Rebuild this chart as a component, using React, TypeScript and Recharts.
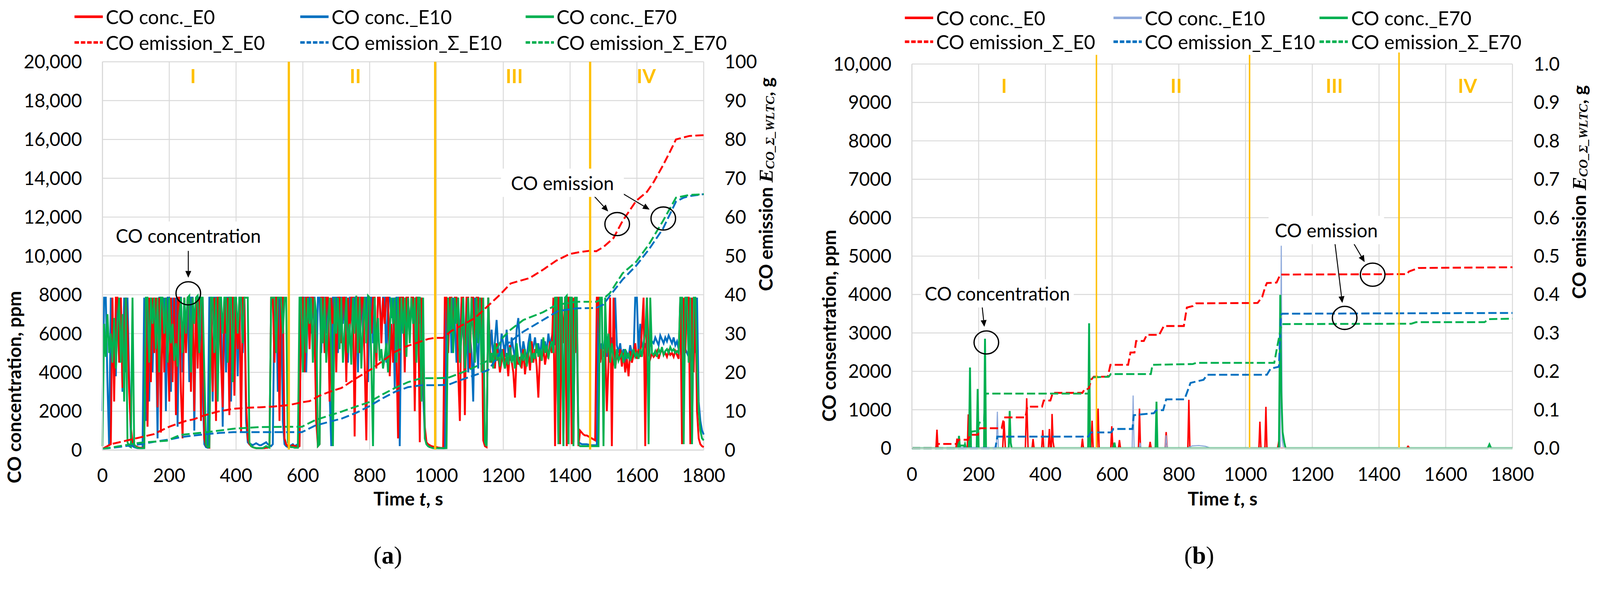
import React from 'react';
import { LineChart, Line, XAxis, YAxis, CartesianGrid, ReferenceLine, ReferenceDot } from 'recharts';

// ---------- shared categories / ticks ----------
const TIME_TICKS = [0, 200, 400, 600, 800, 1000, 1200, 1400, 1600, 1800];
const A_LEFT_TICKS = [0, 2000, 4000, 6000, 8000, 10000, 12000, 14000, 16000, 18000, 20000];
const A_RIGHT_TICKS = [0, 10, 20, 30, 40, 50, 60, 70, 80, 90, 100];
const B_LEFT_TICKS = [0, 1000, 2000, 3000, 4000, 5000, 6000, 7000, 8000, 9000, 10000];
const B_RIGHT_TICKS = [0, 0.1, 0.2, 0.3, 0.4, 0.5, 0.6, 0.7, 0.8, 0.9, 1.0];

const LEGEND_NAMES = ['CO conc._E0', 'CO conc._E10', 'CO conc._E70', 'CO emission_Σ_E0', 'CO emission_Σ_E10', 'CO emission_Σ_E70'];
const PHASE_LABELS = ['I', 'II', 'III', 'IV'];
const A_PHASE_T = [271, 757, 1233, 1628];
const B_PHASE_T = [276, 792, 1266, 1665];
const A_BOUNDS = [558, 996, 1460];
const B_BOUNDS = [553, 1012, 1460];
const B_BOUND_TOP = [10240, 10240, 10300];

// ---------- chart (a): CO concentration, ppm, sampled every 5 s ----------
const A_STEP = 5;
const aConcE0 = [
  100, 100, 150, 200, 250, 300, 7850, 2500, 7850, 7850,
  4500, 7850, 3200, 5800, 7850, 6200, 3000, 1200, 400, 250,
  200, 150, 130, 120, 120, 120, 7850, 1200, 7850, 3500,
  7850, 5000, 7850, 2200, 7850, 900, 7850, 4000, 7850, 6000,
  2500, 7850, 3500, 7850, 1800, 7850, 7850, 3000, 600, 7850,
  5000, 7850, 7850, 3000, 7850, 2000, 7850, 4200, 7850, 1500,
  7850, 600, 250, 150, 120, 7850, 3000, 7850, 1500, 7850,
  7850, 4500, 2200, 7850, 6000, 7850, 1800, 7850, 7850, 2800,
  7850, 5200, 7850, 900, 7850, 7850, 2500, 600, 300, 200,
  150, 120, 100, 100, 100, 100, 100, 100, 120, 120,
  150, 7850, 7850, 4500, 7850, 7850, 1500, 7850, 7850, 600,
  300, 200, 150, 200, 250, 200, 200, 150, 200, 7850,
  7850, 4000, 7850, 7850, 5200, 7850, 7850, 6000, 1500, 200,
  300, 7850, 7850, 5000, 7850, 7850, 2500, 7850, 6500, 7850,
  4000, 7850, 7850, 5500, 7850, 7850, 3500, 7850, 6000, 7850,
  7850, 700, 7850, 7850, 5000, 7850, 7850, 4500, 500, 7850,
  7850, 6000, 7850, 7850, 4200, 7850, 7850, 5500, 7850, 6500,
  7850, 7850, 3800, 6500, 4500, 7850, 5200, 600, 7850, 7850,
  7850, 4000, 7850, 7850, 5800, 7850, 7850, 2000, 7850, 7850,
  400, 7850, 5000, 1200, 400, 300, 250, 200, 180, 160,
  150, 130, 120, 110, 100, 7850, 7850, 5000, 7850, 7850,
  6000, 7850, 7850, 4000, 1500, 7850, 7850, 1800, 7850, 7850,
  4200, 7850, 7850, 5000, 7850, 7850, 6000, 7850, 500, 200,
  150, 7850, 5200, 4500, 5000, 4200, 5500, 4800, 4000, 4600,
  5200, 4200, 4800, 3800, 5400, 4600, 4000, 2700, 5000, 4400,
  4800, 4200, 5200, 3900, 4700, 5000, 4100, 5600, 4500, 5200,
  4300, 2700, 5000, 4600, 5300, 4400, 5000, 4800, 5600, 5000,
  7850, 200, 7850, 7850, 300, 7850, 5500, 7850, 200, 7850,
  7850, 300, 7850, 5000, 7850, 200, 1000, 900, 800, 750,
  750, 700, 650, 600, 550, 500, 7850, 7850, 4500, 5200,
  4800, 5500, 2000, 4500, 7850, 200, 7850, 4200, 5000, 4600,
  5200, 4300, 5000, 4000, 4700, 3800, 5100, 4500, 4900, 5500,
  4700, 5200, 4800, 6200, 7850, 200, 7850, 5000, 4700, 5000,
  4800, 4900, 5100, 4700, 5000, 5200, 4900, 5000, 4800, 5100,
  4900, 5000, 4800, 5100, 4900, 4700, 7850, 300, 7850, 5000,
  7850, 7850, 300, 7850, 4000, 7850, 2000, 600, 300, 200,
  150,
];
const aConcE10 = [
  2000, 7850, 7850, 3500, 200, 7850, 4500, 6000, 3800, 7850,
  5500, 7850, 3000, 7850, 4000, 7850, 3800, 600, 200, 150,
  120, 100, 100, 100, 100, 7850, 1500, 7850, 2500, 7850,
  4000, 7850, 6500, 600, 7850, 7850, 5000, 7850, 2000, 7850,
  7850, 3000, 7850, 6000, 7850, 1200, 7850, 7850, 4000, 7850,
  6000, 7850, 3500, 7850, 7850, 1000, 7850, 5000, 7850, 7850,
  3000, 300, 150, 120, 7850, 7850, 2500, 7850, 7850, 4500,
  7850, 7850, 1200, 7850, 4000, 7850, 7850, 2500, 7850, 6000,
  7850, 3800, 7850, 7850, 5000, 7850, 1500, 400, 300, 300,
  250, 300, 350, 300, 250, 250, 300, 350, 400, 300,
  250, 200, 300, 7850, 7850, 3000, 7850, 7850, 1500, 300,
  200, 150, 200, 250, 300, 200, 250, 300, 250, 7850,
  7850, 7850, 4000, 7850, 7850, 6000, 7850, 7850, 3200, 7850,
  7850, 5000, 7850, 7850, 6000, 7850, 3000, 200, 7850, 7850,
  7850, 5000, 7850, 7850, 6500, 7850, 7850, 4500, 7850, 7850,
  5500, 7850, 7850, 4000, 7850, 7850, 6000, 7850, 7850, 3500,
  7850, 7850, 5500, 7850, 4500, 7850, 7850, 6000, 7850, 7850,
  4500, 7850, 7850, 6800, 7850, 3200, 7850, 7850, 200, 7850,
  7850, 5000, 7850, 7850, 6000, 7850, 7850, 4500, 7850, 7850,
  6500, 7850, 3000, 800, 300, 200, 150, 150, 120, 120,
  120, 100, 100, 100, 100, 100, 7850, 6000, 7850, 5000,
  7850, 6500, 4500, 7850, 5200, 7850, 6000, 5000, 7850, 4000,
  6000, 5000, 2500, 7850, 5500, 4200, 7850, 6000, 4500, 300,
  200, 7850, 5000, 6200, 4800, 5600, 6700, 5200, 4800, 6000,
  5500, 4800, 6200, 5000, 4600, 5800, 5200, 4700, 6200, 6800,
  5400, 4800, 5600, 5100, 4700, 5500, 6000, 4900, 5300, 5800,
  5000, 5500, 4800, 5700, 5200, 5600, 5000, 6000, 5400, 5800,
  6200, 5400, 7850, 300, 7850, 7850, 200, 7850, 7850, 300,
  7850, 7850, 400, 7850, 6000, 400, 350, 300, 300, 300,
  300, 280, 260, 250, 250, 250, 250, 7850, 4800, 5500,
  5200, 5800, 4800, 5600, 5000, 5800, 4700, 7850, 5400, 5000,
  5500, 4700, 5200, 4500, 5000, 4800, 5400, 5000, 4800, 7850,
  7850, 5000, 6500, 5400, 5200, 5500, 5000, 5800, 5400, 5600,
  5500, 5800, 5600, 5400, 5900, 5700, 5500, 5800, 5600, 5900,
  5700, 5500, 5800, 5400, 5600, 5200, 5800, 7850, 5500, 5200,
  5000, 4800, 7850, 300, 7850, 5000, 7850, 2500, 1500, 1000,
  800,
];
const aConcE70 = [
  200, 6500, 4800, 7000, 5000, 6000, 4500, 6800, 4200, 6500,
  7850, 4500, 7000, 2500, 7850, 400, 200, 150, 7850, 300,
  150, 120, 100, 100, 100, 100, 7850, 7850, 4500, 7850,
  6500, 7850, 5200, 7850, 4000, 7850, 7850, 6000, 7850, 4500,
  7850, 5500, 6500, 4600, 5500, 4300, 6800, 7850, 5000, 7850,
  6000, 7850, 7950, 4000, 7850, 6500, 7850, 7950, 5000, 7850,
  7850, 4000, 300, 150, 150, 7850, 7850, 5000, 7850, 2500,
  7850, 7850, 6000, 7850, 7850, 4500, 7850, 7850, 3500, 7850,
  7850, 6000, 7850, 7850, 5500, 7850, 7850, 7850, 400, 200,
  150, 120, 100, 100, 100, 100, 100, 150, 200, 150,
  120, 7850, 7850, 7850, 5000, 7850, 7850, 7850, 6000, 7850,
  7850, 400, 200, 150, 150, 120, 120, 120, 7850, 7850,
  4000, 7850, 5000, 7850, 6500, 7850, 4500, 7850, 7000, 200,
  300, 7850, 5500, 7850, 4500, 6500, 7850, 5000, 200, 7850,
  6000, 7850, 5200, 7850, 4500, 6200, 7850, 5000, 6500, 4400,
  7850, 6000, 7950, 5000, 7850, 4200, 6500, 7850, 5500, 7950,
  7850, 4500, 200, 7850, 5000, 6800, 4600, 5200, 4200, 4800,
  5500, 4000, 6000, 7850, 6500, 7850, 4500, 7850, 5000, 7850,
  6000, 7850, 4800, 7850, 5500, 7850, 6500, 7850, 4500, 7850,
  7850, 2500, 7850, 600, 300, 200, 150, 120, 100, 100,
  100, 100, 100, 100, 100, 100, 100, 7850, 6000, 7850,
  5000, 7850, 6500, 7850, 4500, 6000, 7850, 4200, 5500, 7850,
  5000, 7850, 6000, 4500, 7850, 5500, 7850, 4000, 7850, 400,
  200, 7850, 4500, 5000, 4200, 5500, 4600, 5000, 4300, 5200,
  4600, 4200, 5000, 4400, 5300, 4500, 4900, 4200, 5500, 4600,
  4400, 5000, 4600, 5200, 4300, 4900, 5600, 4500, 5000, 4700,
  5500, 4800, 5200, 4600, 5800, 5000, 5400, 4700, 5300, 5600,
  5000, 7850, 7850, 300, 7850, 7850, 200, 7850, 7950, 300,
  7850, 7850, 200, 7850, 7850, 300, 200, 200, 200, 200,
  200, 200, 200, 200, 200, 200, 200, 200, 7850, 7850,
  200, 7850, 5000, 6000, 4500, 5500, 4800, 4200, 5200, 4600,
  4800, 5000, 4500, 5200, 4700, 5000, 4600, 4900, 5200, 4800,
  5000, 4700, 5200, 4800, 5500, 6000, 7850, 300, 7850, 5000,
  4900, 5100, 4800, 5200, 5000, 5300, 4900, 5100, 5200, 5000,
  5300, 5100, 5200, 5000, 5100, 5000, 7850, 7850, 300, 7850,
  7850, 4500, 7850, 300, 7850, 7850, 4500, 2000, 1000, 600,
  500,
];

// chart (a): cumulative CO emission, g  [time s, g]
const aEmE0 = [
  [0, 0.3], [25, 1.5], [50, 2], [75, 2.5], [100, 3], [125, 3.5], [154, 4.1], [175, 5], [200, 6], [225, 6.8],
  [250, 7.5], [273, 7.9], [300, 8.8], [345, 9.9], [390, 10.6], [433, 10.9], [470, 11], [512, 11.2], [560, 11.6],
  [597, 12.3], [620, 12.6], [650, 14], [680, 15], [716, 16], [760, 18.5], [808, 21], [840, 23], [876, 25.3],
  [910, 26.7], [944, 27.7], [975, 28.6], [995, 28.9], [1020, 28.9], [1043, 30.6], [1080, 32.3], [1115, 34],
  [1155, 37.2], [1190, 40], [1222, 42.9], [1250, 43.6], [1279, 44.3], [1320, 46.5], [1359, 48.8], [1399, 50.5],
  [1430, 51], [1458, 51.3], [1478, 51.2], [1500, 52.3], [1530, 54.6], [1557, 59], [1598, 64.2], [1630, 66.5],
  [1650, 69], [1678, 73.3], [1700, 77], [1717, 80], [1757, 80.9], [1800, 81.1],
];
const aEmE10 = [
  [0, 0.3], [50, 0.8], [114, 1.5], [160, 2.2], [200, 2.7], [233, 3.3], [270, 3.7], [313, 4.1], [350, 4.4],
  [393, 4.6], [450, 4.6], [500, 4.6], [560, 4.6], [597, 4.6], [637, 6.3], [680, 7.3], [716, 8.1], [760, 9.6],
  [797, 11.2], [836, 13.2], [876, 15], [915, 16.2], [955, 16.7], [1000, 16.7], [1035, 16.8], [1065, 17.8],
  [1095, 18.7], [1125, 19.6], [1155, 20.6], [1180, 23.5], [1199, 26.5], [1222, 28], [1260, 30.5], [1319, 33.5],
  [1364, 35.8], [1420, 36.5], [1478, 36.6], [1500, 37.5], [1519, 39.7], [1557, 43.9], [1598, 47.5], [1637, 51.8],
  [1678, 57], [1717, 64], [1740, 65], [1757, 65.4], [1800, 65.9],
];
const aEmE70 = [
  [0, 0.3], [50, 1], [114, 1.9], [193, 2.4], [233, 3.9], [313, 4.6], [393, 5.5], [468, 5.9], [560, 6], [597, 6],
  [637, 7.7], [676, 8.8], [716, 9.9], [756, 11.1], [797, 12.3], [836, 14.2], [876, 16], [915, 17.5], [955, 18.5],
  [1000, 18.5], [1035, 18.6], [1065, 19.6], [1095, 20.6], [1125, 21.8], [1155, 23.1], [1180, 26], [1199, 29],
  [1222, 31], [1260, 33.5], [1319, 35.5], [1359, 37.4], [1420, 38.2], [1478, 38.2], [1500, 39], [1519, 40.4],
  [1557, 45.5], [1598, 48.5], [1637, 53.1], [1678, 59], [1717, 65], [1757, 65.7], [1800, 65.9],
];

// ---------- chart (b): CO concentration, ppm  [time s, ppm] ----------
const bConcE0 = [
  [0, 0], [72, 0], [75, 480], [78, 0], [132, 0], [135, 250], [138, 0], [166, 0], [169, 880], [172, 0],
  [272, 0], [276, 700], [280, 0], [340, 0], [344, 1300], [348, 0], [360, 0], [363, 240], [366, 0],
  [389, 0], [392, 470], [395, 0], [409, 0], [412, 500], [415, 0], [418, 0], [420, 890], [423, 170], [426, 0],
  [508, 0], [511, 250], [514, 0], [537, 0], [540, 715], [543, 0], [555, 0], [558, 1030], [561, 0],
  [596, 0], [599, 570], [602, 0], [619, 0], [622, 210], [625, 0], [679, 0], [682, 1030], [685, 0],
  [711, 0], [714, 165], [717, 0], [759, 0], [762, 420], [765, 0], [827, 0], [830, 1260], [833, 0],
  [1040, 0], [1043, 690], [1046, 0], [1058, 0], [1061, 1075], [1064, 0], [1096, 0], [1100, 200], [1104, 0],
  [1483, 0], [1487, 50], [1492, 0], [1800, 0],
];
const bConcE10 = [
  [0, 0], [253, 0], [256, 950], [259, 0], [660, 0], [663, 1370], [666, 0], [681, 0], [684, 140], [687, 0],
  [759, 0], [762, 335], [765, 0], [825, 0], [840, 60], [860, 70], [880, 50], [895, 0],
  [1104, 0], [1107, 5270], [1110, 200], [1114, 0], [1800, 0],
];
const bConcE70 = [
  [0, 0], [138, 0], [141, 320], [144, 0], [156, 0], [159, 100], [162, 0], [171, 0], [174, 2100], [177, 0],
  [194, 0], [197, 1540], [200, 0], [216, 0], [219, 2850], [222, 0], [290, 0], [293, 970], [296, 140], [299, 0],
  [528, 0], [531, 3250], [534, 0], [604, 0], [607, 145], [610, 0], [730, 0], [733, 1210], [736, 0],
  [1100, 0], [1104, 3990], [1107, 1500], [1111, 420], [1116, 150], [1120, 0], [1726, 0], [1731, 100], [1736, 0],
  [1800, 0],
];
// chart (b): cumulative CO emission, g
const bEmE0 = [
  [0, 0], [72, 0], [75, 0.011], [134, 0.011], [140, 0.022], [169, 0.022], [175, 0.035], [198, 0.035],
  [203, 0.052], [269, 0.052], [276, 0.08], [340, 0.08], [346, 0.108], [390, 0.108], [395, 0.124], [415, 0.124],
  [422, 0.144], [511, 0.144], [518, 0.154], [530, 0.154], [537, 0.178], [545, 0.186], [587, 0.186],
  [595, 0.217], [648, 0.217], [655, 0.249], [667, 0.249], [672, 0.279], [695, 0.279], [704, 0.295],
  [741, 0.295], [755, 0.318], [815, 0.318], [824, 0.366], [842, 0.37], [852, 0.377], [1036, 0.378],
  [1050, 0.394], [1059, 0.42], [1064, 0.43], [1093, 0.431], [1104, 0.452], [1483, 0.453], [1490, 0.46],
  [1518, 0.469], [1800, 0.471],
];
const bEmE10 = [
  [0, 0], [250, 0], [256, 0.03], [529, 0.03], [536, 0.041], [597, 0.041], [604, 0.05], [661, 0.05],
  [665, 0.086], [725, 0.091], [732, 0.099], [753, 0.099], [762, 0.127], [817, 0.127], [835, 0.17],
  [874, 0.178], [885, 0.191], [1064, 0.191], [1075, 0.207], [1100, 0.212], [1106, 0.347], [1110, 0.35],
  [1800, 0.352],
];
const bEmE70 = [
  [0, 0], [140, 0], [145, 0.007], [172, 0.007], [178, 0.043], [197, 0.045], [201, 0.066], [216, 0.07],
  [221, 0.142], [529, 0.142], [533, 0.184], [590, 0.186], [596, 0.193], [716, 0.193], [721, 0.217],
  [842, 0.219], [852, 0.222], [1086, 0.222], [1094, 0.26], [1108, 0.323], [1497, 0.324], [1511, 0.328],
  [1716, 0.328], [1730, 0.336], [1800, 0.337],
];

// annotations (data coordinates on the left axis)
const A_NOTE_TEXT = [{ t: 257, v: 11045, text: 'CO concentration', w: 410 }, { t: 1377, v: 13768, text: 'CO emission', w: 330 }];
const A_NOTE_ARROWS = [[257, 10259, 257, 8878], [1470, 13116, 1514, 12291], [1539, 13404, 1638, 12387]];
const A_NOTE_RINGS = [[257, 8073], [1541, 11640], [1679, 11927]];
const B_NOTE_TEXT = [{ t: 256, v: 4031, text: 'CO concentration', w: 410 }, { t: 1242, v: 5678, text: 'CO emission', w: 310 }];
const B_NOTE_ARROWS = [[210, 3721, 217, 3159], [1319, 5407, 1357, 4845], [1268, 5329, 1290, 3779]];
const B_NOTE_RINGS = [[223, 2752], [1381, 4516], [1297, 3391]];

// ---------- styles ----------
const PAGE_W = 4295;
const PAGE_H = 1550;
const FONT = "Lato, 'Open Sans', 'DejaVu Sans', sans-serif";
const SERIF = "'Liberation Serif', 'DejaVu Serif', serif";
const RED = '#FF0000';
const BLUE = '#0070C0';
const LIGHT_BLUE = '#8FAADC';
const GREEN = '#00B050';
const ORANGE = '#FFC000';
const GRID = '#D9D9D9';
const DASH = '22 9';

const rowsFromStep = (vals: number[], step: number) => vals.map((v, i) => ({ t: i * step, v }));
const rowsFromPairs = (pairs: number[][]) => pairs.map(([t, v]) => ({ t, v }));

const fmtPpm = (v: number) => (v >= 10000 ? v.toLocaleString('en-US') : String(v));
const fmtG1 = (v: number) => v.toFixed(1);

const tickStyle = { fontFamily: FONT, fontSize: 50, fill: '#000' };

const Arrow = (p: any) => {
  const { x1, y1, x2, y2 } = p;
  const dx = x2 - x1;
  const dy = y2 - y1;
  const len = Math.hypot(dx, dy) || 1;
  const ux = dx / len;
  const uy = dy / len;
  const hl = 18;
  const hw = 8;
  const bx = x2 - ux * hl;
  const by = y2 - uy * hl;
  return (
    <g>
      <line x1={x1} y1={y1} x2={bx} y2={by} stroke="#000" strokeWidth={2.5} />
      <polygon points={`${x2},${y2} ${bx - uy * hw},${by + ux * hw} ${bx + uy * hw},${by - ux * hw}`} fill="#000" />
    </g>
  );
};

const ring = (p: any) => <ellipse cx={p.cx} cy={p.cy} rx={33} ry={31} fill="none" stroke="#000" strokeWidth={3.5} />;

const noteBox = (text: string, w: number) => (p: any) => (
  <g>
    <rect x={p.cx - w / 2} y={p.cy - 38} width={w} height={76} fill="#fff" />
    <text x={p.cx} y={p.cy} textAnchor="middle" dominantBaseline="central" fontFamily={FONT} fontSize={50} fill="#000">
      {text}
    </text>
  </g>
);

const phaseText = (label: string) => (p: any) => (
  <text x={p.cx} y={p.cy} textAnchor="middle" dominantBaseline="central" fontFamily={FONT} fontWeight={700} fontSize={52} fill={ORANGE}>
    {label}
  </text>
);

const timeTitle = (cx: number) => () => (
  <text x={cx} y={1339} textAnchor="middle" dominantBaseline="central" fontFamily={FONT} fontWeight={700} fontSize={50} fill="#000">
    Time <tspan fontStyle="italic">t</tspan>, s
  </text>
);

const leftTitle = (text: string, cx: number, cy: number) => () => (
  <text x={cx} y={cy} transform={`rotate(-90 ${cx} ${cy})`} textAnchor="middle" dominantBaseline="central" fontFamily={FONT} fontWeight={700} fontSize={50} fill="#000">
    {text}
  </text>
);

const rightTitle = (cx: number, cy: number) => () => (
  <text x={cx} y={cy} transform={`rotate(-90 ${cx} ${cy})`} textAnchor="middle" dominantBaseline="central" fontFamily={FONT} fontWeight={700} fontSize={50} fill="#000">
    CO emission{' '}
    <tspan fontFamily={SERIF} fontStyle="italic" fontWeight={700} fontSize={54}>E</tspan>
    <tspan fontFamily={SERIF} fontStyle="italic" fontWeight={700} fontSize={34} dy={12}>CO_Σ_WLTC</tspan>
    <tspan dy={-12}>, g</tspan>
  </text>
);

function renderNotes(texts: any[], arrows: number[][], rings: number[][], key: string) {
  const out: any[] = [];
  arrows.forEach((a, i) =>
    out.push(
      <ReferenceLine key={`${key}-ar${i}`} yAxisId="left" segment={[{ x: a[0], y: a[1] }, { x: a[2], y: a[3] }]} shape={Arrow} ifOverflow="visible" />
    )
  );
  rings.forEach((r, i) =>
    out.push(<ReferenceDot key={`${key}-rg${i}`} yAxisId="left" x={r[0]} y={r[1]} r={32} shape={ring} ifOverflow="visible" />)
  );
  texts.forEach((n, i) =>
    out.push(<ReferenceDot key={`${key}-tx${i}`} yAxisId="left" x={n.t} y={n.v} r={1} shape={noteBox(n.text, n.w)} ifOverflow="visible" />)
  );
  return out;
}

function ChartA() {
  const e0 = rowsFromStep(aConcE0, A_STEP);
  const e10 = rowsFromStep(aConcE10, A_STEP);
  const e70 = rowsFromStep(aConcE70, A_STEP);
  return (
    <LineChart width={2150} height={1550} margin={{ top: 166, right: 0, left: 0, bottom: 281 }}>
      <CartesianGrid yAxisId="left" stroke={GRID} strokeWidth={2.5} />
      <XAxis
        type="number"
        dataKey="t"
        domain={[0, 1800]}
        ticks={TIME_TICKS}
        interval={0}
        height={60}
        tickSize={0}
        tickMargin={50}
        tickLine={false}
        axisLine={{ stroke: GRID, strokeWidth: 3 }}
        tick={tickStyle}
        label={timeTitle(1096)}
      />
      <YAxis
        yAxisId="left"
        domain={[0, 20000]}
        ticks={A_LEFT_TICKS}
        interval={0}
        width={275}
        tickSize={0}
        tickMargin={55}
        tickLine={false}
        axisLine={{ stroke: GRID, strokeWidth: 3 }}
        tick={tickStyle}
        tickFormatter={fmtPpm}
        label={leftTitle('CO concentration, ppm', 37, 1040)}
      />
      <YAxis
        yAxisId="right"
        orientation="right"
        domain={[0, 100]}
        ticks={A_RIGHT_TICKS}
        interval={0}
        width={261}
        tickSize={0}
        tickMargin={56}
        tickLine={false}
        axisLine={false}
        tick={tickStyle}
        label={rightTitle(2055, 495)}
      />
      <Line yAxisId="left" data={e10} dataKey="v" type="linear" stroke={BLUE} strokeWidth={5} dot={false} isAnimationActive={false} />
      <Line yAxisId="left" data={e0} dataKey="v" type="linear" stroke={RED} strokeWidth={5} dot={false} isAnimationActive={false} />
      <Line yAxisId="left" data={e70} dataKey="v" type="linear" stroke={GREEN} strokeWidth={5} dot={false} isAnimationActive={false} />
      <Line yAxisId="right" data={rowsFromPairs(aEmE0)} dataKey="v" type="linear" stroke={RED} strokeWidth={5} strokeDasharray={DASH} dot={false} isAnimationActive={false} />
      <Line yAxisId="right" data={rowsFromPairs(aEmE10)} dataKey="v" type="linear" stroke={BLUE} strokeWidth={5} strokeDasharray={DASH} dot={false} isAnimationActive={false} />
      <Line yAxisId="right" data={rowsFromPairs(aEmE70)} dataKey="v" type="linear" stroke={GREEN} strokeWidth={5} strokeDasharray={DASH} dot={false} isAnimationActive={false} />
      {A_BOUNDS.map((b, i) => (
        <ReferenceLine key={`ab${i}`} yAxisId="left" x={b} stroke={ORANGE} strokeWidth={6} />
      ))}
      {PHASE_LABELS.map((l, i) => (
        <ReferenceDot key={`ap${i}`} yAxisId="left" x={A_PHASE_T[i]} y={19290} r={1} shape={phaseText(l)} />
      ))}
      {renderNotes(A_NOTE_TEXT, A_NOTE_ARROWS, A_NOTE_RINGS, 'a')}
    </LineChart>
  );
}

function ChartB() {
  return (
    <LineChart width={2145} height={1550} margin={{ top: 172, right: 0, left: 0, bottom: 286 }}>
      <CartesianGrid yAxisId="left" stroke={GRID} strokeWidth={2.5} />
      <XAxis
        type="number"
        dataKey="t"
        domain={[0, 1800]}
        ticks={TIME_TICKS}
        interval={0}
        height={60}
        tickSize={0}
        tickMargin={52}
        tickLine={false}
        axisLine={{ stroke: GRID, strokeWidth: 3 }}
        tick={tickStyle}
        label={timeTitle(1132)}
      />
      <YAxis
        yAxisId="left"
        domain={[0, 10000]}
        ticks={B_LEFT_TICKS}
        interval={0}
        width={298}
        tickSize={0}
        tickMargin={55}
        tickLine={false}
        axisLine={{ stroke: GRID, strokeWidth: 3 }}
        tick={tickStyle}
        tickFormatter={fmtPpm}
        label={leftTitle('CO consentration, ppm', 75, 875)}
      />
      <YAxis
        yAxisId="right"
        orientation="right"
        domain={[0, 1]}
        ticks={B_RIGHT_TICKS}
        interval={0}
        width={235}
        tickSize={0}
        tickMargin={57}
        tickLine={false}
        axisLine={false}
        tick={tickStyle}
        tickFormatter={fmtG1}
        label={rightTitle(2088, 516)}
      />
      <Line yAxisId="left" data={rowsFromPairs(bConcE0)} dataKey="v" type="linear" stroke={RED} strokeWidth={4} dot={false} isAnimationActive={false} />
      <Line yAxisId="left" data={rowsFromPairs(bConcE10)} dataKey="v" type="linear" stroke={LIGHT_BLUE} strokeWidth={3} dot={false} isAnimationActive={false} />
      <Line yAxisId="left" data={rowsFromPairs(bConcE70)} dataKey="v" type="linear" stroke={GREEN} strokeWidth={5} dot={false} isAnimationActive={false} />
      <Line yAxisId="right" data={rowsFromPairs(bEmE0)} dataKey="v" type="linear" stroke={RED} strokeWidth={5} strokeDasharray={DASH} dot={false} isAnimationActive={false} />
      <Line yAxisId="right" data={rowsFromPairs(bEmE10)} dataKey="v" type="linear" stroke={BLUE} strokeWidth={5} strokeDasharray={DASH} dot={false} isAnimationActive={false} />
      <Line yAxisId="right" data={rowsFromPairs(bEmE70)} dataKey="v" type="linear" stroke={GREEN} strokeWidth={5} strokeDasharray={DASH} dot={false} isAnimationActive={false} />
      {B_BOUNDS.map((b, i) => (
        <ReferenceLine key={`bb${i}`} yAxisId="left" segment={[{ x: b, y: 0 }, { x: b, y: B_BOUND_TOP[i] }]} stroke={ORANGE} strokeWidth={4} ifOverflow="visible" />
      ))}
      {PHASE_LABELS.map((l, i) => (
        <ReferenceDot key={`bp${i}`} yAxisId="left" x={B_PHASE_T[i]} y={9438} r={1} shape={phaseText(l)} />
      ))}
      {renderNotes(B_NOTE_TEXT, B_NOTE_ARROWS, B_NOTE_RINGS, 'b')}
    </LineChart>
  );
}

function LegendBlock({ colors, lineX, textX, rowY }: any) {
  const items: any[] = [];
  LEGEND_NAMES.forEach((name, i) => {
    const col = i % 3;
    const row = Math.floor(i / 3);
    const y = rowY[row];
    items.push(
      <g key={name}>
        <line
          x1={lineX[col]}
          y1={y}
          x2={lineX[col] + 76}
          y2={y}
          stroke={colors[i]}
          strokeWidth={7}
          strokeDasharray={row === 1 ? '12 5' : undefined}
        />
        <text x={textX[col]} y={y} dominantBaseline="central" fontFamily={FONT} fontSize={52} fill="#000">
          {name}
        </text>
      </g>
    );
  });
  return <g>{items}</g>;
}

export default function App() {
  const [scale, setScale] = React.useState(1);
  React.useLayoutEffect(() => {
    const fit = () => {
      const w = document.documentElement.clientWidth || window.innerWidth || PAGE_W;
      const h = window.innerHeight || PAGE_H;
      setScale(Math.min(1, w / PAGE_W, h / PAGE_H));
    };
    fit();
    window.addEventListener('resize', fit);
    return () => window.removeEventListener('resize', fit);
  }, []);
  return (
    <div
      style={{
        position: 'absolute',
        left: 0,
        top: 0,
        width: PAGE_W,
        height: PAGE_H,
        background: '#fff',
        overflow: 'hidden',
        transform: `scale(${scale})`,
        transformOrigin: '0 0',
      }}
    >
      <div style={{ position: 'absolute', left: 0, top: 0, width: 2150, height: PAGE_H }}>
        <ChartA />
      </div>
      <div style={{ position: 'absolute', left: 2150, top: 0, width: 2145, height: PAGE_H }}>
        <ChartB />
      </div>
      <svg width={PAGE_W} height={PAGE_H} style={{ position: 'absolute', left: 0, top: 0, pointerEvents: 'none' }}>
        <LegendBlock colors={[RED, BLUE, GREEN, RED, BLUE, GREEN]} lineX={[200, 806, 1411]} textX={[284, 890, 1494]} rowY={[45, 114]} />
        <LegendBlock colors={[RED, LIGHT_BLUE, GREEN, RED, BLUE, GREEN]} lineX={[2429, 2989, 3542]} textX={[2513, 3073, 3627]} rowY={[48, 112]} />
        <text x={1041} y={1492} textAnchor="middle" dominantBaseline="central" fontFamily={SERIF} fontSize={66} fill="#000">
          (<tspan fontWeight={700}>a</tspan>)
        </text>
        <text x={3219} y={1492} textAnchor="middle" dominantBaseline="central" fontFamily={SERIF} fontSize={66} fill="#000">
          (<tspan fontWeight={700}>b</tspan>)
        </text>
      </svg>
    </div>
  );
}
